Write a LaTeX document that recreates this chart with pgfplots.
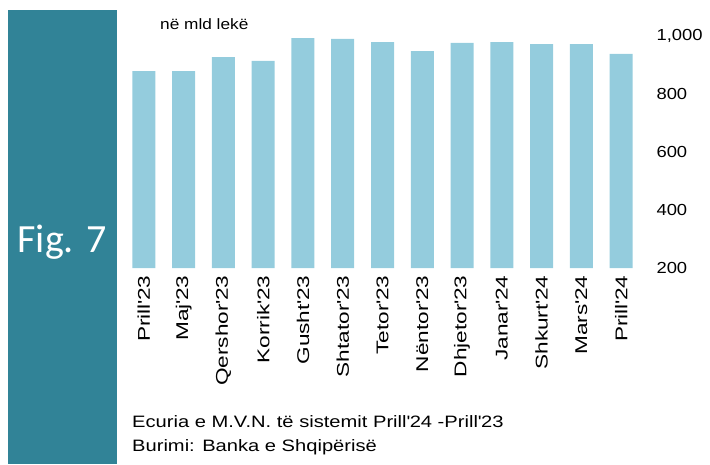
\documentclass[border=0pt]{standalone}
\usepackage{fontspec}
\setmainfont{Liberation Sans}[FakeStretch=1.15]
\newfontfamily\capfont{Liberation Sans}[FakeStretch=1.22]
\newfontfamily\monthfont{Liberation Sans}[FakeStretch=1.33]
\newfontfamily\figfont{Carlito}
\usepackage{pgfplots}
\pgfplotsset{compat=1.18}
\definecolor{bandteal}{RGB}{49,131,151}
\definecolor{barblue}{RGB}{148,204,221}

\pgfplotstableread{
x val
0 879
1 879
2 927
3 914
4 993
5 990
6 979
7 948
8 976
9 979
10 972
11 972
12 938
}\mvn

\newcommand{\q}{\textquotesingle}

\begin{document}
\begin{tikzpicture}[x=1pt,y=1pt]
\path[use as bounding box] (0,0) rectangle (710,464);
\fill[bandteal] (8,0) rectangle (117,454);
\node[anchor=base, text=white, font=\figfont\fontsize{40}{44}\selectfont, inner sep=0pt] at (62,211) {Fig. 7};

\begin{axis}[
    at={(124pt,196pt)}, anchor=south west,
    scale only axis,
    width=517pt, height=232pt,
    xmin=-0.5, xmax=12.5,
    ymin=200, ymax=1000,
    axis line style={draw=none},
    tick style={draw=none},
    ytick={200,400,...,1000},
    yticklabel pos=right,
    /pgf/number format/assume math mode=true,
    /pgf/number format/1000 sep={,},
    yticklabel style={anchor=west, xshift=12pt, font=\fontsize{16}{18}\selectfont},
    xtick=data,
    xticklabels={Prill\q 23,Maj\q 23,Qershor\q 23,Korrik\q 23,Gusht\q 23,Shtator\q 23,Tetor\q 23,Nëntor\q 23,Dhjetor\q 23,Janar\q 24,Shkurt\q 24,Mars\q 24,Prill\q 24},
    xticklabel style={rotate=90, anchor=east, yshift=0pt, font=\monthfont\fontsize{17}{20}\selectfont},
    ybar, bar width=23pt,
]
\addplot[fill=barblue, draw=none] table[x=x, y=val] {\mvn};
\end{axis}

\node[anchor=base west, inner sep=0pt, font=\fontsize{15}{17}\selectfont] at (160,434) {në mld lekë};
\node[anchor=base west, inner sep=0pt, font=\capfont\fontsize{16.5}{19}\selectfont] at (132,37) {Ecuria e M.V.N. të sistemit Prill\q 24 -Prill\q 23};
\node[anchor=base west, inner sep=0pt, font=\capfont\fontsize{16.5}{19}\selectfont] at (132,13) {Burimi: Banka e Shqipërisë};
\end{tikzpicture}
\end{document}
